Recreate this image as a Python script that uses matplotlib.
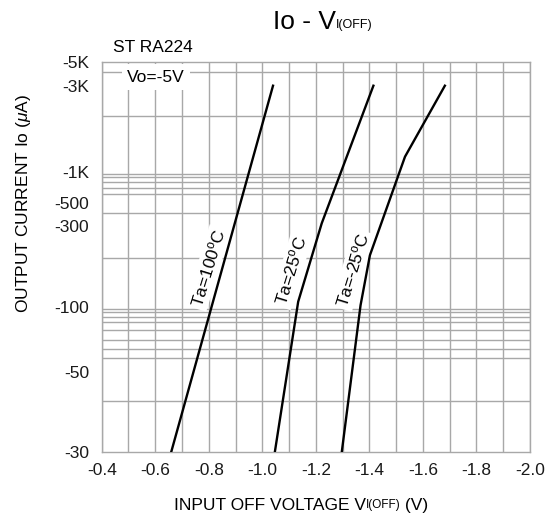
import matplotlib
matplotlib.use('Agg')
import matplotlib.pyplot as plt
import numpy as np

plt.rcParams['font.family'] = ['Liberation Sans', 'DejaVu Sans']
plt.rcParams['mathtext.fontset'] = 'custom'
plt.rcParams['mathtext.rm'] = 'Liberation Sans'
plt.rcParams['mathtext.it'] = 'Liberation Sans:italic'

# curves: input off voltage (V) vs output current (uA)
ta100_v = [-0.66, -1.04]
ta100_i = [-30, -3000]
ta25_v = [-1.047, -1.134, -1.222, -1.415]
ta25_i = [-30, -107, -317, -3000]
tam25_v = [-1.297, -1.367, -1.402, -1.533, -1.682]
tam25_i = [-30, -102, -201, -1211, -3000]

y_ticks = [-30, -50, -100, -300, -500, -1000, -3000, -5000]
y_labels = ['-30', '-50', '-100', '-300', '-500', '-1K', '-3K', '-5K']
x_ticks = [-0.4, -0.6, -0.8, -1.0, -1.2, -1.4, -1.6, -1.8, -2.0]
x_labels = ['-0.4', '-0.6', '-0.8', '-1.0', '-1.2', '-1.4', '-1.6', '-1.8', '-2.0']

W, H = 553, 517
AX_L, AX_R, AX_T, AX_B = 101.7, 530, 62.3, 451.7

# the datasheet's current axis is not a true log scale, so map it piecewise
anchor_val = np.log10([30, 50, 100, 300, 500, 1000, 3000, 5000])
anchor_px = np.array([451.7, 371.7, 306.7, 225.7, 203.3, 171.7, 85.7, 62.3])
anchor_pos = AX_B - anchor_px

def fwd(y):
    y = np.abs(np.asarray(y, dtype=float))
    y = np.maximum(y, 1e-9)
    return np.interp(np.log10(y), anchor_val, anchor_pos)

def inv(p):
    return -10 ** np.interp(np.asarray(p, dtype=float), anchor_pos, anchor_val)

# horizontal grid lines (pixel rows in the reference)
grid_px = [71.7, 85.7, 116, 171.7, 174, 177.3, 181.7, 187.7, 194, 203.3, 212.7,
           225.7, 257.7, 306.7, 309, 312.3, 317, 322, 330, 340, 349.3, 358.3,
           371.7, 401]

fig = plt.figure(figsize=(W / 100, H / 100), dpi=100)
ax = fig.add_axes([AX_L / W, 1 - AX_B / H, (AX_R - AX_L) / W, (AX_B - AX_T) / H])
ax.set_yscale('function', functions=(fwd, inv))
ax.set_ylim(-5000, -30)
ax.set_xlim(-0.4, -2.0)

gc = '#a8a8a8'
ax.set_yticks(y_ticks)
ax.set_yticklabels(y_labels)
ax.set_yticks(inv(AX_B - np.array(grid_px)), minor=True)
ax.set_xticks(x_ticks)
ax.set_xticklabels(x_labels)
ax.set_xticks(np.arange(-0.5, -2.0, -0.2), minor=True)
ax.grid(False)
ax.grid(True, which='minor', axis='y', color=gc, lw=1.0)
ax.grid(True, which='both', axis='x', color=gc, lw=1.0)
ax.set_axisbelow(True)
ax.tick_params(which='both', length=0, labelsize=12.5, colors='#1a1a1a')
ax.tick_params(axis='y', pad=9)
ax.tick_params(axis='x', pad=8)
for s in ax.spines.values():
    s.set_color(gc)
    s.set_linewidth(1.0)

for v, i in [(ta100_v, ta100_i), (ta25_v, ta25_i), (tam25_v, tam25_i)]:
    ax.plot(v, i, color='black', lw=1.7, zorder=3)

# curve labels sit under the lines but over the grid
box = dict(facecolor='white', edgecolor='none', pad=1.5)
for txt, (px, py) in [('Ta=100$^{\\mathregular{o}}$C', (208, 268)),
                      ('Ta=25$^{\\mathregular{o}}$C', (291, 271)),
                      ('Ta=-25$^{\\mathregular{o}}$C', (353, 270))]:
    ax.text(px / W, 1 - py / H, txt, transform=fig.transFigure, rotation=73,
            ha='center', va='center', fontsize=12.5, bbox=box, zorder=2.5)

ax.text(156 / W, 1 - 77 / H, 'Vo=-5V', transform=fig.transFigure, ha='center',
        va='center', fontsize=12.5, zorder=2.5,
        bbox=dict(facecolor='white', edgecolor='none', pad=4))
fig.text(153 / W, 1 - 47.5 / H, 'ST RA224', ha='center', va='center', fontsize=12.5)

fig.text(23.5 / W, 1 - 204 / H, 'OUTPUT CURRENT Io ($\\mu$A)', rotation=90,
         ha='center', va='center', fontsize=12.5)

renderer = fig.canvas.get_renderer()

def write_parts(cx, base_y, parts):
    items = []
    for s, size, dy in parts:
        t = fig.text(0, 0, s, fontsize=size, ha='left', va='baseline', transform=None)
        items.append((t, t.get_window_extent(renderer).width, dy))
    x = cx - sum(w for _, w, _ in items) / 2
    for t, w, dy in items:
        t.set_position((x, H - base_y - dy))
        x += w

write_parts(323, 29.3, [('Io - V', 19, 0), ('I(OFF)', 9, -1.5)])
write_parts(301, 510, [('INPUT OFF VOLTAGE V', 12.5, 0), ('I(OFF)', 8.5, -2), (' (V)', 12.5, 0)])

fig.savefig('out.png', dpi=100)
